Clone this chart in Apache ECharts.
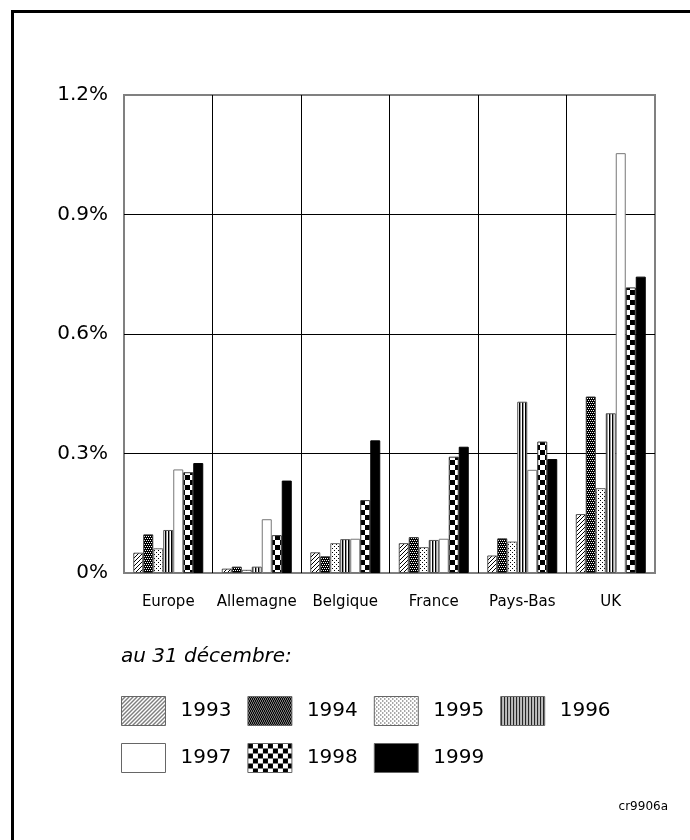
<!DOCTYPE html>
<html>
<head>
<meta charset="utf-8">
<script src="https://cdn.jsdelivr.net/npm/echarts@6/dist/echarts.min.js"></script>
<style>
html,body{margin:0;padding:0;background:#fff;}
#c{width:690px;height:840px;}
</style>
</head>
<body>
<div id="c"></div>
<script>
const categories = ['Europe', 'Allemagne', 'Belgique', 'France', 'Pays-Bas', 'UK'];
const years = ['1993', '1994', '1995', '1996', '1997', '1998', '1999'];
const v1993 = [0.051, 0.011, 0.052, 0.075, 0.044, 0.148];
const v1994 = [0.097, 0.016, 0.042, 0.090, 0.087, 0.443];
const v1995 = [0.062, 0.008, 0.075, 0.065, 0.079, 0.213];
const v1996 = [0.108, 0.016, 0.085, 0.083, 0.430, 0.401];
const v1997 = [0.260, 0.135, 0.086, 0.086, 0.259, 1.054];
const v1998 = [0.253, 0.095, 0.183, 0.292, 0.330, 0.717];
const v1999 = [0.276, 0.232, 0.333, 0.317, 0.286, 0.744];
const yTicks = [0, 0.3, 0.6, 0.9, 1.2];
const yTickLabels = ['0%', '0.3%', '0.6%', '0.9%', '1.2%'];
const legendRow1 = ['1993', '1994', '1995', '1996'];
const legendRow2 = ['1997', '1998', '1999'];
const subtitle = 'au 31 décembre:';
const code = 'cr9906a';

const FONT = 'DejaVu Sans';

function pattern(size, draw) {
  const c = document.createElement('canvas');
  c.width = size; c.height = size;
  const g = c.getContext('2d');
  g.fillStyle = '#fff';
  g.fillRect(0, 0, size, size);
  g.fillStyle = '#000';
  draw(g, size);
  return { image: c, repeat: 'repeat' };
}
const fills = [
  // 1993 diagonal hatch
  pattern(4, (g, s) => { for (let x = 0; x < s; x++) { g.fillRect(x, s - 1 - x, 1, 1); } }),
  // 1994 dense dark texture
  pattern(4, (g) => { g.fillRect(0, 0, 4, 4); g.fillStyle = '#fff';
    g.fillRect(0, 0, 1, 1); g.fillRect(2, 0, 1, 1); g.fillRect(1, 2, 1, 1); g.fillRect(3, 2, 1, 1); }),
  // 1995 sparse dots
  pattern(4, (g) => { g.fillRect(0, 0, 1, 1); g.fillRect(2, 2, 1, 1); }),
  // 1996 vertical stripes
  pattern(3, (g) => { g.fillRect(0, 0, 1, 3); g.fillStyle = '#999'; g.fillRect(1, 0, 1, 3); }),
  // 1997 white
  '#ffffff',
  // 1998 checkerboard
  pattern(10, (g) => { g.fillRect(0, 0, 5, 5); g.fillRect(5, 5, 5, 5); }),
  // 1999 black
  '#000000'
];
const borders = ['#555', '#333', '#666', '#555', '#777', '#333', '#000'];
const values = [v1993, v1994, v1995, v1996, v1997, v1998, v1999];

const chart = echarts.init(document.getElementById('c'), null, { renderer: 'canvas' });

const series = years.map((y, i) => ({
  name: y,
  type: 'bar',
  data: values[i],
  barWidth: 10,
  barGap: '0%',
  itemStyle: { color: fills[i], borderColor: borders[i], borderWidth: 1 },
  emphasis: { disabled: true },
  animation: false
}));

function legend(data, top) {
  return {
    data: data,
    left: 121,
    top: top,
    padding: 0,
    itemWidth: 44,
    itemHeight: 29,
    itemGap: 16,
    icon: 'rect',
    selectedMode: false,
    itemStyle: { borderColor: '#666', borderWidth: 1 },
    textStyle: { fontFamily: FONT, fontSize: 20, color: '#000', padding: [0, 0, 0, 10] }
  };
}

chart.setOption({
  animation: false,
  backgroundColor: '#fff',
  grid: {
    left: 124, right: 35, top: 95, bottom: 267,
    show: true, borderColor: '#808080', borderWidth: 2, backgroundColor: 'transparent'
  },
  title: [
    { text: subtitle, left: 121, top: 647, padding: 0,
      textStyle: { fontFamily: FONT, fontSize: 20, fontStyle: 'italic', fontWeight: 'normal', color: '#000' } },
    { text: code, right: 22, top: 801, padding: 0,
      textStyle: { fontFamily: FONT, fontSize: 12, fontWeight: 'normal', color: '#000' } }
  ],
  legend: [legend(legendRow1, 696), legend(legendRow2, 743)],
  xAxis: {
    type: 'category',
    data: categories,
    axisLine: { show: false },
    axisTick: { show: false },
    axisLabel: { fontFamily: FONT, fontSize: 15, color: '#000', margin: 22, interval: 0 },
    splitLine: { show: true, showMinLine: false, showMaxLine: false, lineStyle: { color: '#000', width: 1 } }
  },
  yAxis: {
    type: 'value',
    min: 0, max: 1.2, interval: 0.3,
    axisLine: { show: false },
    axisTick: { show: false },
    axisLabel: {
      fontFamily: FONT, fontSize: 20, color: '#000', margin: 16,
      formatter: (v) => { const i = yTicks.findIndex(t => Math.abs(t - v) < 1e-9); return i >= 0 ? yTickLabels[i] : ''; }
    },
    splitLine: { show: true, showMinLine: false, showMaxLine: false, lineStyle: { color: '#000', width: 1 } }
  },
  graphic: [
    { type: 'line', shape: { x1: 12.5, y1: 10, x2: 12.5, y2: 840 }, style: { stroke: '#000', lineWidth: 3 } },
    { type: 'line', shape: { x1: 11, y1: 11.5, x2: 690, y2: 11.5 }, style: { stroke: '#000', lineWidth: 3 } }
  ],
  series: series
});
</script>
</body>
</html>
